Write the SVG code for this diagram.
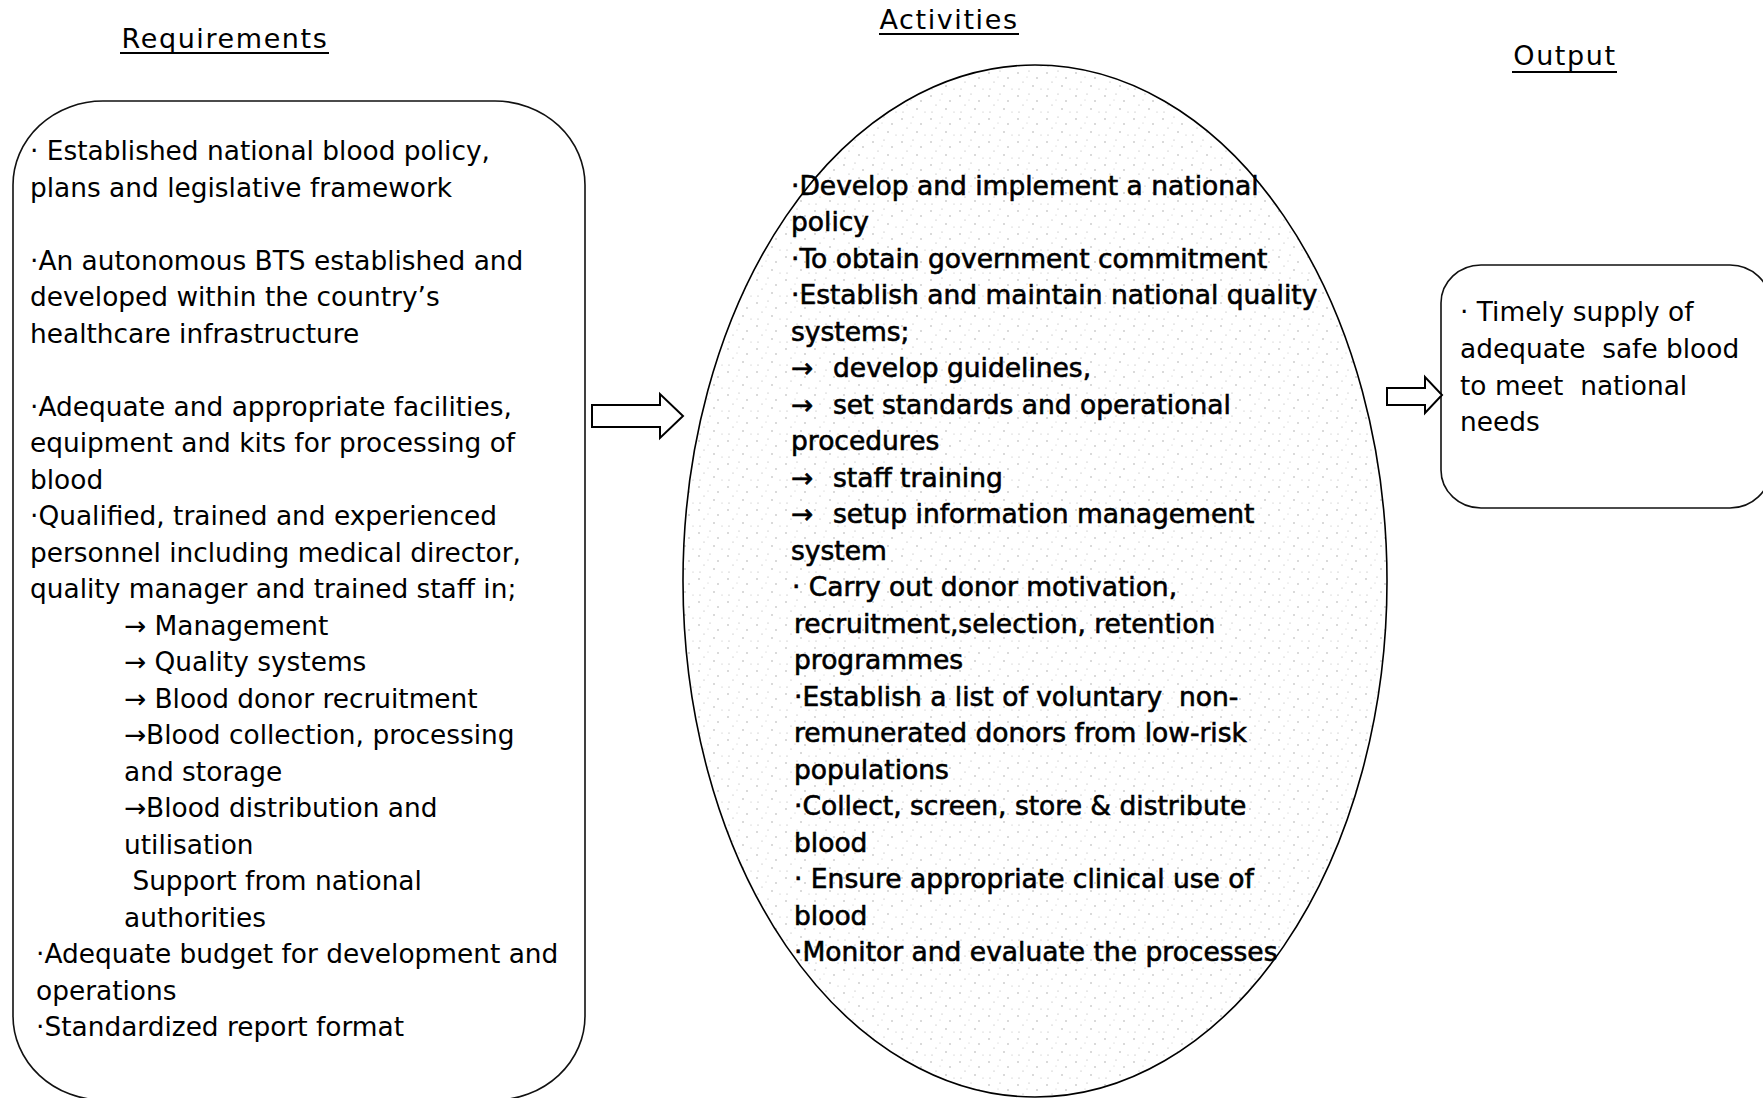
<svg xmlns="http://www.w3.org/2000/svg" width="1763" height="1098" viewBox="0 0 1763 1098">
<style>
  text { font-family: "DejaVu Sans", "Liberation Sans", sans-serif; fill: #000; white-space: pre; }
  .body { font-size: 26.4px; }
  .act { font-size: 26.5px; stroke: #000; stroke-width: 0.6px; }
  .head { font-size: 27px; letter-spacing: 1.6px; text-anchor: middle; }
  .uline { stroke: #000; stroke-width: 2; }
  .box { fill: #fff; stroke: #111; stroke-width: 1.6; }
  .blk { fill: #fff; stroke: #000; stroke-width: 2; stroke-linejoin: miter; }
</style>
<defs>
  <pattern id="stip" width="29" height="23" patternUnits="userSpaceOnUse">
    <rect width="29" height="23" fill="#fff"/>
    <circle cx="3" cy="4" r="0.7" fill="#999"/>
    <circle cx="14" cy="2" r="0.6" fill="#aaa"/>
    <circle cx="22" cy="9" r="0.7" fill="#999"/>
    <circle cx="8" cy="13" r="0.6" fill="#aaa"/>
    <circle cx="18" cy="17" r="0.7" fill="#999"/>
    <circle cx="26" cy="20" r="0.6" fill="#bbb"/>
    <circle cx="4" cy="20" r="0.6" fill="#aaa"/>
    <circle cx="12" cy="8" r="0.5" fill="#bbb"/>
  </pattern>
</defs>

<g id="headers">
  <text class="head" x="225" y="48">Requirements</text>
  <line class="uline" x1="120" y1="53" x2="329" y2="53"/>
  <text class="head" x="949" y="29">Activities</text>
  <line class="uline" x1="879" y1="34" x2="1019" y2="34"/>
  <text class="head" x="1565" y="65">Output</text>
  <line class="uline" x1="1512" y1="72" x2="1617" y2="72"/>
</g>

<g id="requirements">
  <rect class="box" x="13" y="101" width="572" height="999" rx="90" ry="84"/>
  <text class="body" x="30" y="160">· Established national blood policy,</text>
  <text class="body" x="30" y="196.5">plans and legislative framework</text>
  <text class="body" x="30" y="269.5">·An autonomous BTS established and</text>
  <text class="body" x="30" y="306">developed within the country’s</text>
  <text class="body" x="30" y="342.5">healthcare infrastructure</text>
  <text class="body" x="30" y="415.5">·Adequate and appropriate facilities,</text>
  <text class="body" x="30" y="452">equipment and kits for processing of</text>
  <text class="body" x="30" y="488.5">blood</text>
  <text class="body" x="30" y="525">·Qualified, trained and experienced</text>
  <text class="body" x="30" y="561.5">personnel including medical director,</text>
  <text class="body" x="30" y="598">quality manager and trained staff in;</text>
  <text class="body" x="124" y="634.5">→ Management</text>
  <text class="body" x="124" y="671">→ Quality systems</text>
  <text class="body" x="124" y="707.5">→ Blood donor recruitment</text>
  <text class="body" x="124" y="744">→Blood collection, processing</text>
  <text class="body" x="124" y="780.5">and storage</text>
  <text class="body" x="124" y="817">→Blood distribution and</text>
  <text class="body" x="124" y="853.5">utilisation</text>
  <text class="body" x="124" y="890"> Support from national</text>
  <text class="body" x="124" y="926.5">authorities</text>
  <text class="body" x="36" y="963">·Adequate budget for development and</text>
  <text class="body" x="36" y="999.5">operations</text>
  <text class="body" x="36" y="1036">·Standardized report format</text>
</g>

<g id="activities">
  <ellipse cx="1035" cy="581" rx="352" ry="516" fill="url(#stip)" stroke="#000" stroke-width="1.6"/>
  <text class="act" x="791" y="194.5">·Develop and implement a national</text>
  <text class="act" x="791" y="231">policy</text>
  <text class="act" x="791" y="267.5">·To obtain government commitment</text>
  <text class="act" x="791" y="304">·Establish and maintain national quality</text>
  <text class="act" x="791" y="340.5">systems;</text>
  <text class="act" x="791" y="377">→<tspan x="833">develop guidelines,</tspan></text>
  <text class="act" x="791" y="413.5">→<tspan x="833">set standards and operational</tspan></text>
  <text class="act" x="791" y="450">procedures</text>
  <text class="act" x="791" y="486.5">→<tspan x="833">staff training</tspan></text>
  <text class="act" x="791" y="523">→<tspan x="833">setup information management</tspan></text>
  <text class="act" x="791" y="559.5">system</text>
  <text class="act" x="792" y="596">· Carry out donor motivation,</text>
  <text class="act" x="794" y="632.5">recruitment,selection, retention</text>
  <text class="act" x="794" y="669">programmes</text>
  <text class="act" x="794" y="705.5">·Establish a list of voluntary  non-</text>
  <text class="act" x="794" y="742">remunerated donors from low-risk</text>
  <text class="act" x="794" y="778.5">populations</text>
  <text class="act" x="794" y="815">·Collect, screen, store &amp; distribute</text>
  <text class="act" x="794" y="851.5">blood</text>
  <text class="act" x="794" y="888">· Ensure appropriate clinical use of</text>
  <text class="act" x="794" y="924.5">blood</text>
  <text class="act" x="794" y="961">·Monitor and evaluate the processes</text>
</g>

<g id="output">
  <rect class="box" x="1441" y="265" width="329" height="243" rx="40" ry="38"/>
  <text class="body" x="1460" y="321">· Timely supply of</text>
  <text class="body" x="1460" y="358">adequate  safe blood</text>
  <text class="body" x="1460" y="394.5">to meet  national</text>
  <text class="body" x="1460" y="431">needs</text>
</g>

<g id="connectors">
  <polygon class="blk" points="592,405 660,405 660,394 683,416 660,438 660,427 592,427"/>
  <polygon class="blk" points="1387,388 1425,388 1425,377 1442,395 1425,413 1425,405 1387,405"/>
</g>
</svg>
